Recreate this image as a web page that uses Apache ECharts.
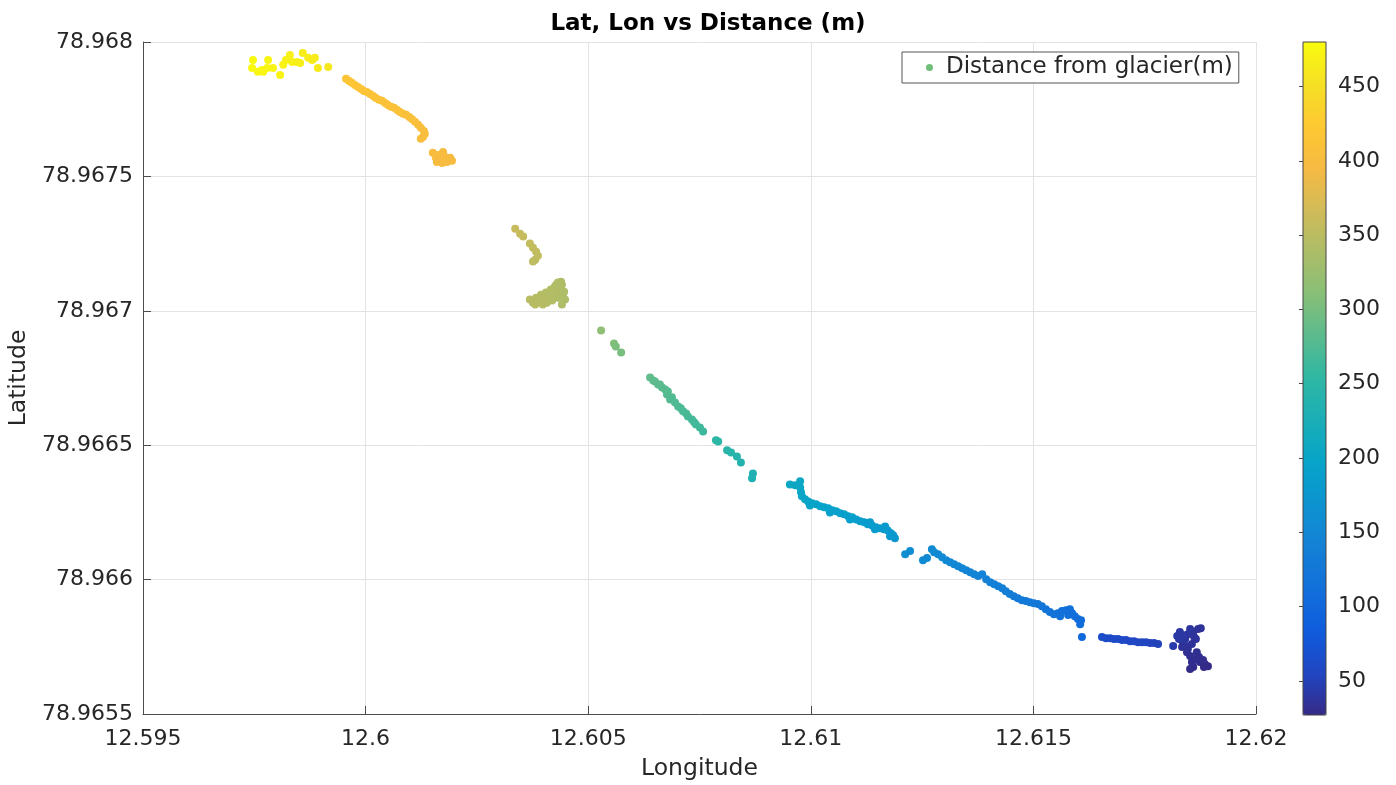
<!DOCTYPE html>
<html>
<head>
<meta charset="utf-8">
<script src="https://cdn.jsdelivr.net/npm/echarts@6/dist/echarts.min.js"></script>
<style>html,body{margin:0;padding:0;background:#fff}#chart{width:1396px;height:785px}</style>
</head>
<body>
<div id="chart"></div>
<script>
// [longitude, latitude, distance from glacier (m)]
const yellowGroup = [
  [12.59747, 78.967933, 478], [12.59745, 78.967903, 477], [12.59758, 78.967889, 476],
  [12.59767, 78.967896, 476], [12.59770, 78.967889, 475], [12.59779, 78.967903, 475],
  [12.59781, 78.967933, 474], [12.59792, 78.967903, 473], [12.59808, 78.967877, 472],
  [12.59815, 78.967915, 471], [12.59821, 78.967933, 470], [12.59830, 78.967952, 469],
  [12.59835, 78.967926, 469], [12.59846, 78.967926, 468], [12.59853, 78.967922, 467],
  [12.59859, 78.967959, 466], [12.59871, 78.967941, 465], [12.59880, 78.967933, 464],
  [12.59886, 78.967941, 463], [12.59893, 78.967903, 462], [12.59916, 78.967907, 460]
];
const orangeTrail = [
  [12.59956, 78.967863, 418], [12.59963, 78.967855, 418], [12.59969, 78.967848, 417],
  [12.59976, 78.967840, 417], [12.59983, 78.967833, 416], [12.59990, 78.967825, 416],
  [12.59996, 78.967818, 415], [12.60003, 78.967814, 415], [12.60010, 78.967807, 414],
  [12.60017, 78.967799, 414], [12.60023, 78.967792, 413], [12.60030, 78.967785, 413],
  [12.60037, 78.967781, 412], [12.60044, 78.967773, 412], [12.60050, 78.967766, 411],
  [12.60057, 78.967759, 411], [12.60064, 78.967755, 410], [12.60071, 78.967747, 410],
  [12.60077, 78.967740, 409], [12.60084, 78.967733, 409], [12.60091, 78.967729, 408],
  [12.60098, 78.967721, 408], [12.60104, 78.967714, 407], [12.60111, 78.967703, 407],
  [12.60118, 78.967692, 406], [12.60124, 78.967681, 406], [12.60131, 78.967669, 405],
  [12.60133, 78.967658, 405], [12.60129, 78.967647, 404], [12.60124, 78.967640, 404]
];
const orangeCluster = [
  [12.60151, 78.967588, 402], [12.60158, 78.967569, 401], [12.60163, 78.967580, 401],
  [12.60167, 78.967562, 400], [12.60174, 78.967591, 400], [12.60178, 78.967573, 399],
  [12.60183, 78.967554, 399], [12.60190, 78.967569, 398], [12.60194, 78.967558, 398],
  [12.60172, 78.967550, 399], [12.60160, 78.967554, 400]
];
const oliveUpper = [
  [12.60336, 78.967305, 360], [12.60347, 78.967287, 359], [12.60354, 78.967276, 358],
  [12.60369, 78.967250, 357], [12.60376, 78.967235, 356], [12.60383, 78.967220, 355],
  [12.60387, 78.967205, 354], [12.60381, 78.967190, 353], [12.60376, 78.967183, 352]
];
const oliveLower = [
  [12.60369, 78.967042, 348], [12.60376, 78.967030, 348], [12.60383, 78.967049, 347],
  [12.60390, 78.967034, 347], [12.60394, 78.967060, 346], [12.60401, 78.967042, 346],
  [12.60405, 78.967068, 345], [12.60410, 78.967049, 345], [12.60416, 78.967079, 344],
  [12.60421, 78.967056, 344], [12.60425, 78.967090, 343], [12.60430, 78.967071, 343],
  [12.60432, 78.967105, 342], [12.60437, 78.967086, 342], [12.60441, 78.967097, 341],
  [12.60443, 78.967060, 341], [12.60448, 78.967042, 340], [12.60441, 78.967023, 340],
  [12.60446, 78.967071, 340], [12.60407, 78.967030, 345], [12.60398, 78.967023, 346],
  [12.60419, 78.967038, 344], [12.60432, 78.967049, 342], [12.60381, 78.967023, 347],
  [12.60414, 78.967064, 344], [12.60428, 78.967097, 342], [12.60439, 78.967108, 341]
];
const greenTrail = [
  [12.60529, 78.966927, 316], [12.60558, 78.966878, 306], [12.60562, 78.966867, 304],
  [12.60574, 78.966845, 300], [12.60639, 78.966752, 286], [12.60646, 78.966741, 285],
  [12.60650, 78.966737, 284], [12.60657, 78.966726, 283], [12.60661, 78.966726, 282],
  [12.60666, 78.966715, 281], [12.60673, 78.966707, 280], [12.60677, 78.966689, 278],
  [12.60679, 78.966700, 279], [12.60684, 78.966670, 277], [12.60688, 78.966678, 276],
  [12.60695, 78.966659, 275], [12.60702, 78.966644, 274], [12.60708, 78.966637, 273],
  [12.60713, 78.966626, 272], [12.60720, 78.966618, 271], [12.60724, 78.966607, 270],
  [12.60733, 78.966596, 268], [12.60738, 78.966585, 267], [12.60742, 78.966577, 266],
  [12.60751, 78.966566, 265], [12.60758, 78.966551, 263], [12.60787, 78.966518, 252],
  [12.60792, 78.966514, 251], [12.60812, 78.966481, 246], [12.60821, 78.966473, 244],
  [12.60834, 78.966458, 241], [12.60843, 78.966436, 239], [12.60870, 78.966395, 233],
  [12.60868, 78.966377, 232]
];
const tealTrail = [
  [12.60953, 78.966354, 206], [12.60965, 78.966351, 205], [12.60976, 78.966366, 205],
  [12.60976, 78.966343, 204], [12.60978, 78.966325, 203], [12.60980, 78.966310, 202],
  [12.60987, 78.966299, 201], [12.60994, 78.966291, 200], [12.61003, 78.966284, 199],
  [12.60998, 78.966276, 199], [12.61012, 78.966280, 198], [12.61021, 78.966273, 197],
  [12.61030, 78.966269, 196], [12.61039, 78.966265, 195], [12.61043, 78.966250, 194],
  [12.61048, 78.966258, 194], [12.61057, 78.966254, 193], [12.61066, 78.966247, 192],
  [12.61075, 78.966243, 191], [12.61084, 78.966236, 190], [12.61088, 78.966224, 189],
  [12.61093, 78.966232, 189], [12.61102, 78.966224, 188], [12.61111, 78.966217, 187],
  [12.61120, 78.966213, 186], [12.61128, 78.966206, 185], [12.61133, 78.966213, 185],
  [12.61137, 78.966202, 184], [12.61144, 78.966187, 183], [12.61146, 78.966195, 183],
  [12.61155, 78.966191, 182], [12.61164, 78.966187, 181], [12.61167, 78.966198, 181],
  [12.61173, 78.966183, 180], [12.61178, 78.966161, 179], [12.61180, 78.966172, 179],
  [12.61185, 78.966165, 178], [12.61189, 78.966154, 177]
];
const blueTrail = [
  [12.61212, 78.966094, 160], [12.61223, 78.966106, 159], [12.61252, 78.966072, 157],
  [12.61261, 78.966080, 156], [12.61272, 78.966113, 155], [12.61277, 78.966102, 155],
  [12.61286, 78.966094, 154], [12.61295, 78.966083, 153], [12.61304, 78.966072, 152],
  [12.61313, 78.966065, 151], [12.61322, 78.966057, 150], [12.61331, 78.966050, 149],
  [12.61340, 78.966042, 148], [12.61349, 78.966035, 146], [12.61358, 78.966027, 145],
  [12.61367, 78.966020, 144], [12.61376, 78.966013, 143], [12.61385, 78.966020, 142],
  [12.61394, 78.966001, 141], [12.61403, 78.965990, 140], [12.61412, 78.965983, 138],
  [12.61421, 78.965975, 137], [12.61430, 78.965968, 136], [12.61438, 78.965957, 135],
  [12.61447, 78.965946, 133], [12.61456, 78.965938, 132], [12.61465, 78.965931, 131],
  [12.61474, 78.965923, 129], [12.61483, 78.965920, 128], [12.61492, 78.965916, 127],
  [12.61501, 78.965912, 126], [12.61510, 78.965909, 124], [12.61519, 78.965901, 123],
  [12.61528, 78.965890, 122], [12.61537, 78.965879, 120], [12.61546, 78.965871, 119],
  [12.61555, 78.965875, 118], [12.61560, 78.965864, 117], [12.61564, 78.965883, 117],
  [12.61573, 78.965886, 115], [12.61578, 78.965868, 114], [12.61582, 78.965890, 113],
  [12.61587, 78.965875, 112], [12.61593, 78.965864, 111], [12.61600, 78.965853, 109],
  [12.61607, 78.965849, 108], [12.61605, 78.965834, 107], [12.61609, 78.965786, 104]
];
const darkTrail = [
  [12.61654, 78.965786, 64], [12.61663, 78.965782, 63], [12.61672, 78.965782, 62],
  [12.61681, 78.965779, 61], [12.61690, 78.965779, 61], [12.61699, 78.965775, 60],
  [12.61708, 78.965775, 59], [12.61717, 78.965771, 58], [12.61726, 78.965771, 57],
  [12.61735, 78.965767, 56], [12.61744, 78.965767, 55], [12.61753, 78.965767, 55],
  [12.61762, 78.965764, 54], [12.61771, 78.965764, 53], [12.61780, 78.965760, 52]
];
const darkCluster = [
  [12.61814, 78.965753, 44], [12.61823, 78.965790, 42], [12.61829, 78.965805, 41],
  [12.61836, 78.965767, 40], [12.61841, 78.965779, 39], [12.61847, 78.965797, 38],
  [12.61859, 78.965805, 37], [12.61870, 78.965816, 36], [12.61876, 78.965819, 35],
  [12.61865, 78.965779, 35], [12.61856, 78.965760, 34], [12.61834, 78.965749, 34],
  [12.61845, 78.965730, 33], [12.61852, 78.965716, 32], [12.61867, 78.965730, 32],
  [12.61863, 78.965704, 31], [12.61874, 78.965693, 30], [12.61885, 78.965686, 29],
  [12.61892, 78.965678, 28], [12.61859, 78.965675, 30], [12.61852, 78.965667, 29],
  [12.61827, 78.965779, 41], [12.61852, 78.965816, 38], [12.61843, 78.965753, 36],
  [12.61861, 78.965786, 37], [12.61872, 78.965712, 31], [12.61881, 78.965701, 30],
  [12.61856, 78.965693, 31], [12.61847, 78.965742, 34], [12.61836, 78.965793, 40],
  [12.61883, 78.965675, 28]
];

const lonTicks = { min: 12.595, max: 12.62, step: 0.005 };
const latTicks = { min: 78.9655, max: 78.968, step: 0.0005 };
const colorbarRange = [27, 480];
const colorbarTicks = [50, 100, 150, 200, 250, 300, 350, 400, 450];
const parula = ['#352a87', '#2146c2', '#0f5cdd', '#126fda', '#1481d6', '#0d93d0', '#06a4ca',
  '#1aaeb7', '#2eb7a4', '#5bbb8e', '#87bf77', '#acbd68', '#d1bb59', '#f6ba42', '#fec832',
  '#f5e024', '#f9fb0e'];

const points = [].concat(yellowGroup, orangeTrail, orangeCluster, oliveUpper, oliveLower,
  greenTrail, tealTrail, blueTrail, darkTrail, darkCluster);

const FONT = 'DejaVu Sans';
const TXT = '#262626';
const chart = echarts.init(document.getElementById('chart'), null, { renderer: 'canvas' });
chart.setOption({
  animation: false,
  backgroundColor: '#ffffff',
  textStyle: { fontFamily: FONT },
  title: {
    text: 'Lat, Lon vs Distance (m)', left: 703, top: 8, textAlign: 'center',
    textStyle: { fontFamily: FONT, fontSize: 23, fontWeight: 'bold', color: '#000' }
  },
  legend: {
    left: 902, top: 52, orient: 'vertical',
    padding: [4, 6, 4, 24], itemWidth: 7, itemHeight: 7,
    borderColor: '#555', borderWidth: 1, backgroundColor: '#fff',
    textStyle: { fontFamily: FONT, fontSize: 23, color: TXT, padding: [0, 0, 0, 8] },
    data: [{ name: 'Distance from glacier(m)', icon: 'circle' }]
  },
  grid: [
    { left: 143, right: 140, top: 42, bottom: 71, outerBoundsMode: 'none' },
    { left: 1303, top: 42, width: 23, height: 673, show: true, z: 6,
      borderColor: '#444', borderWidth: 1, backgroundColor: 'transparent', outerBoundsMode: 'none' }
  ],
  xAxis: [
    {
      type: 'value', gridIndex: 0, min: lonTicks.min, max: lonTicks.max, interval: lonTicks.step,
      name: 'Longitude', nameLocation: 'middle', nameGap: 43,
      nameTextStyle: { fontFamily: FONT, fontSize: 23.5, color: TXT },
      axisLine: { show: true, lineStyle: { color: '#4d4d4d', width: 1 } },
      axisTick: { show: true, inside: true, length: 8, lineStyle: { color: '#4d4d4d' } },
      axisLabel: { fontFamily: FONT, fontSize: 22, color: TXT, margin: 14,
        formatter: v => String(+(+v).toFixed(3)) },
      splitLine: { show: true, lineStyle: { color: '#e3e3e3', width: 1 } }
    },
    { type: 'value', gridIndex: 1, min: 0, max: 1, show: false }
  ],
  yAxis: [
    {
      type: 'value', gridIndex: 0, min: latTicks.min, max: latTicks.max, interval: latTicks.step,
      name: 'Latitude', nameLocation: 'middle', nameGap: 110, nameRotate: 90,
      nameTextStyle: { fontFamily: FONT, fontSize: 23.5, color: TXT },
      axisLine: { show: true, lineStyle: { color: '#4d4d4d', width: 1 } },
      axisTick: { show: true, inside: true, length: 8, lineStyle: { color: '#4d4d4d' } },
      axisLabel: { fontFamily: FONT, fontSize: 22, color: TXT, margin: 10,
        formatter: v => String(+(+v).toFixed(4)) },
      splitLine: { show: true, lineStyle: { color: '#e3e3e3', width: 1 } }
    },
    {
      type: 'value', gridIndex: 1, position: 'right', min: colorbarRange[0], max: colorbarRange[1],
      axisLine: { show: false },
      axisTick: { show: true, inside: true, length: 4, customValues: colorbarTicks,
        lineStyle: { color: '#444' } },
      axisLabel: { fontFamily: FONT, fontSize: 22, color: TXT, margin: 12, customValues: colorbarTicks },
      splitLine: { show: false }
    }
  ],
  visualMap: {
    type: 'continuous', show: true, seriesIndex: 0, dimension: 2,
    min: colorbarRange[0], max: colorbarRange[1],
    left: 1303, top: 42, itemWidth: 23, itemHeight: 673, padding: 0,
    calculable: false, hoverLink: false, z: 4,
    inRange: { color: parula }
  },
  series: [{
    name: 'Distance from glacier(m)', type: 'scatter', xAxisIndex: 0, yAxisIndex: 0,
    symbolSize: 8, itemStyle: { color: '#70be78', opacity: 1 },
    data: points
  }]
});
</script>
</body>
</html>
